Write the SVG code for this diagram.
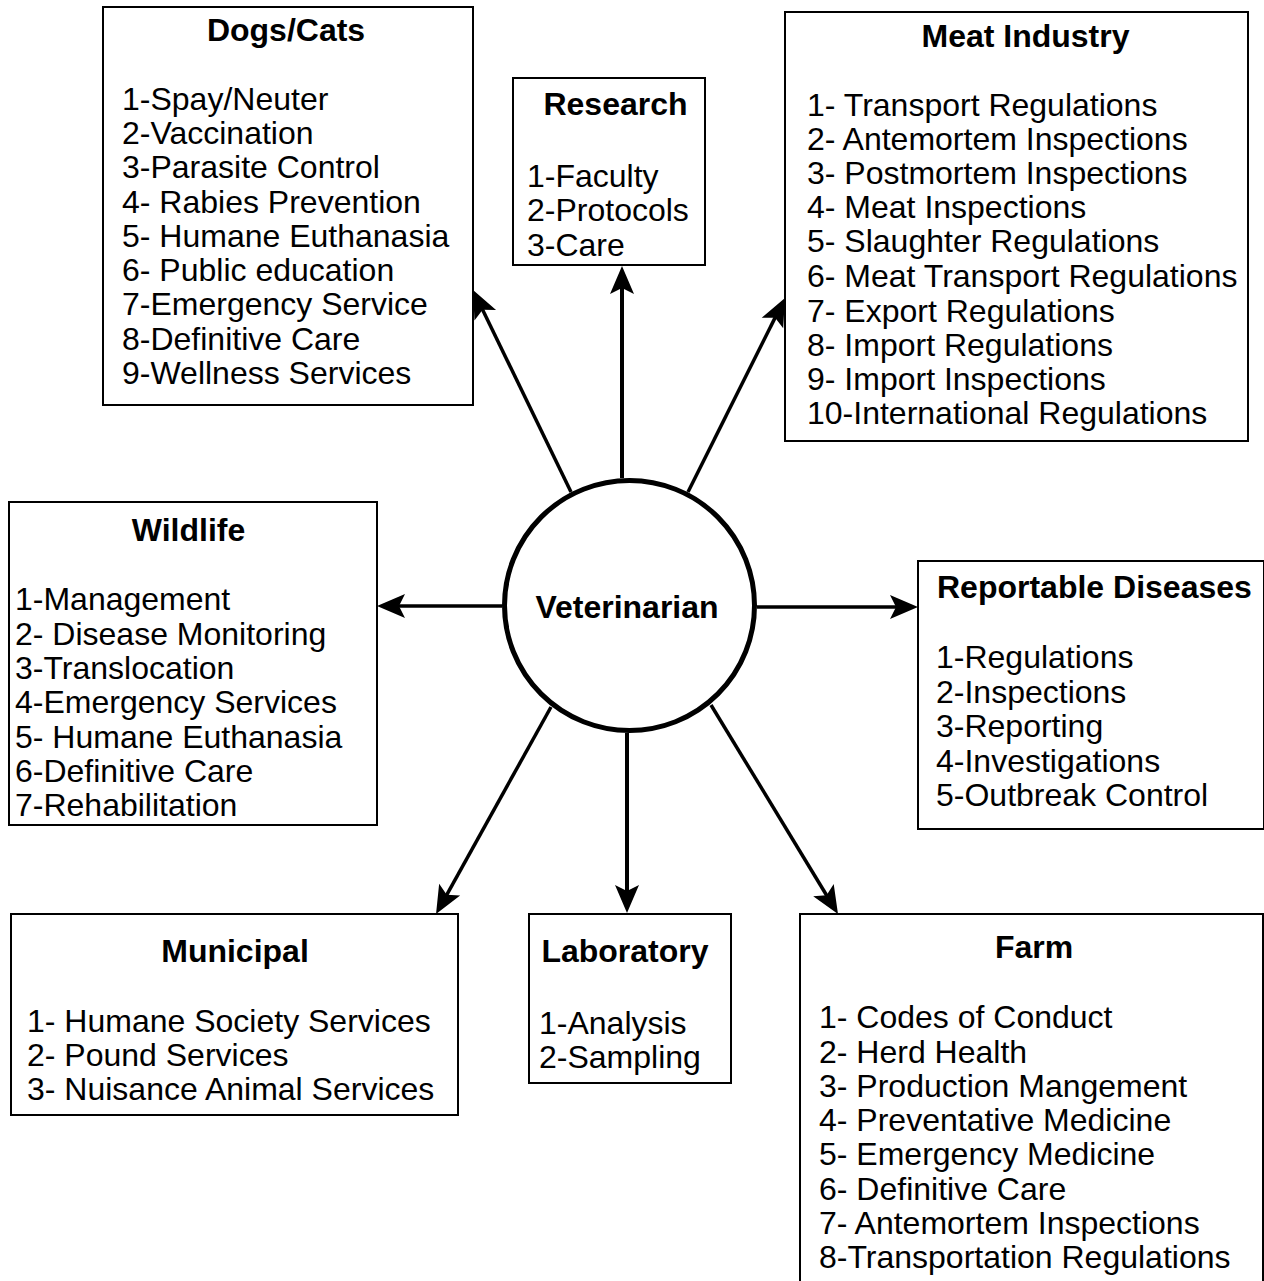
<svg xmlns="http://www.w3.org/2000/svg" width="1264" height="1281" viewBox="0 0 1264 1281">
<style>
.box{fill:#fff;stroke:#000;stroke-width:2}
.t{font-family:"Liberation Sans",Arial,sans-serif;font-size:32px;font-weight:bold;fill:#000;text-anchor:middle}
.i{font-family:"Liberation Sans",Arial,sans-serif;font-size:32px;fill:#000}
.c{stroke:#000;stroke-width:3.5;fill:none;marker-end:url(#ah)}
</style>
<defs>
<marker id="ah" markerUnits="userSpaceOnUse" markerWidth="60" markerHeight="60" refX="0" refY="0" orient="auto" overflow="visible">
<path d="M10,0 L-18,-12 L-12,0 L-18,12 Z" fill="#000"/>
</marker>
</defs>
<rect width="1264" height="1281" fill="#fff"/>

<g id="connectors">
<line class="c" x1="622" y1="478" x2="622" y2="276" style="stroke-width:4"/>
<line class="c" x1="571" y1="492" x2="477.4" y2="299"/>
<line class="c" x1="688" y1="492" x2="780.5" y2="306.9"/>
<line class="c" x1="502" y1="606" x2="387" y2="606"/>
<line class="c" x1="757" y1="607" x2="908" y2="607"/>
<line class="c" x1="551" y1="707" x2="440.9" y2="905.3"/>
<line class="c" x1="627" y1="733" x2="627" y2="903" style="stroke-width:4"/>
<line class="c" x1="711" y1="705" x2="832.8" y2="905.5"/>
</g>

<g id="veterinarian">
<circle cx="629.5" cy="605.5" r="125" fill="#fff" stroke="#000" stroke-width="5"/>
<text class="t" x="627" y="618">Veterinarian</text>
</g>

<g id="dogs-cats">
<rect class="box" x="103" y="7" width="370" height="398"/>
<text class="t" x="286" y="41">Dogs/Cats</text>
<text class="i" x="122" y="110">1-Spay/Neuter</text>
<text class="i" x="122" y="144">2-Vaccination</text>
<text class="i" x="122" y="178">3-Parasite Control</text>
<text class="i" x="122" y="213">4- Rabies Prevention</text>
<text class="i" x="122" y="247">5- Humane Euthanasia</text>
<text class="i" x="122" y="281">6- Public education</text>
<text class="i" x="122" y="315">7-Emergency Service</text>
<text class="i" x="122" y="350">8-Definitive Care</text>
<text class="i" x="122" y="384">9-Wellness Services</text>
</g>

<g id="research">
<rect class="box" x="513" y="78" width="192" height="187"/>
<text class="t" x="615.5" y="115">Research</text>
<text class="i" x="527" y="187">1-Faculty</text>
<text class="i" x="527" y="221">2-Protocols</text>
<text class="i" x="527" y="256">3-Care</text>
</g>

<g id="meat-industry">
<rect class="box" x="785" y="12" width="463" height="429"/>
<text class="t" x="1025.5" y="47">Meat Industry</text>
<text class="i" x="807" y="116">1- Transport Regulations</text>
<text class="i" x="807" y="150">2- Antemortem Inspections</text>
<text class="i" x="807" y="184">3- Postmortem Inspections</text>
<text class="i" x="807" y="218">4- Meat Inspections</text>
<text class="i" x="807" y="252">5- Slaughter Regulations</text>
<text class="i" x="807" y="287">6- Meat Transport Regulations</text>
<text class="i" x="807" y="322">7- Export Regulations</text>
<text class="i" x="807" y="356">8- Import Regulations</text>
<text class="i" x="807" y="390">9- Import Inspections</text>
<text class="i" x="807" y="424">10-International Regulations</text>
</g>

<g id="wildlife">
<rect class="box" x="9" y="502" width="368" height="323"/>
<text class="t" x="188.5" y="541">Wildlife</text>
<text class="i" x="15" y="610">1-Management</text>
<text class="i" x="15" y="645">2- Disease Monitoring</text>
<text class="i" x="15" y="679">3-Translocation</text>
<text class="i" x="15" y="713">4-Emergency Services</text>
<text class="i" x="15" y="748">5- Humane Euthanasia</text>
<text class="i" x="15" y="782">6-Definitive Care</text>
<text class="i" x="15" y="816">7-Rehabilitation</text>
</g>

<g id="reportable-diseases">
<rect class="box" x="918" y="561" width="346" height="268"/>
<text class="t" x="937" y="598" style="text-anchor:start">Reportable Diseases</text>
<text class="i" x="936" y="668">1-Regulations</text>
<text class="i" x="936" y="703">2-Inspections</text>
<text class="i" x="936" y="737">3-Reporting</text>
<text class="i" x="936" y="772">4-Investigations</text>
<text class="i" x="936" y="806">5-Outbreak Control</text>
</g>

<g id="municipal">
<rect class="box" x="11" y="914" width="447" height="201"/>
<text class="t" x="235" y="962">Municipal</text>
<text class="i" x="27" y="1032">1- Humane Society Services</text>
<text class="i" x="27" y="1066">2- Pound Services</text>
<text class="i" x="27" y="1100">3- Nuisance Animal Services</text>
</g>

<g id="laboratory">
<rect class="box" x="529" y="914" width="202" height="169"/>
<text class="t" x="625" y="962">Laboratory</text>
<text class="i" x="539" y="1034">1-Analysis</text>
<text class="i" x="539" y="1068">2-Sampling</text>
</g>

<g id="farm">
<rect class="box" x="800" y="914" width="463" height="380"/>
<text class="t" x="1034" y="958">Farm</text>
<text class="i" x="819" y="1028">1- Codes of Conduct</text>
<text class="i" x="819" y="1063">2- Herd Health</text>
<text class="i" x="819" y="1097">3- Production Mangement</text>
<text class="i" x="819" y="1131">4- Preventative Medicine</text>
<text class="i" x="819" y="1165">5- Emergency Medicine</text>
<text class="i" x="819" y="1200">6- Definitive Care</text>
<text class="i" x="819" y="1234">7- Antemortem Inspections</text>
<text class="i" x="819" y="1268">8-Transportation Regulations</text>
</g>
</svg>
